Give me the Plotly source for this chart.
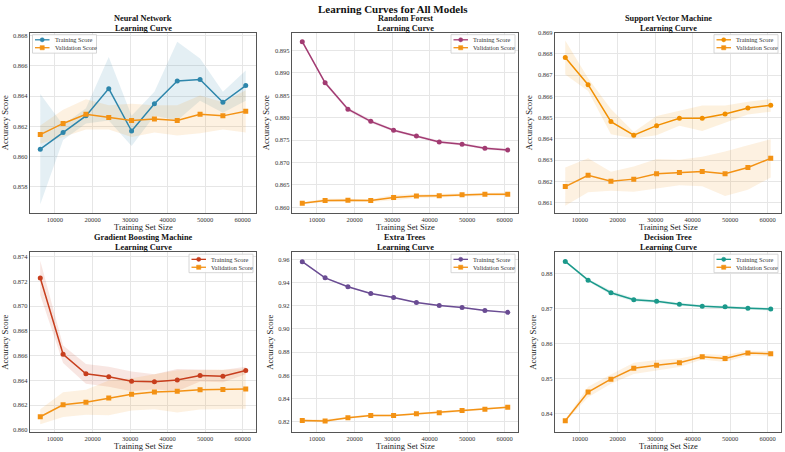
import plotly.graph_objects as go

# ---------------- data ----------------
train_sizes = [6080, 12160, 18240, 24320, 30400, 36480, 42560, 48640, 54720, 60800]
x_ticks = [10000, 20000, 30000, 40000, 50000, 60000]

model_names = ["Neural Network", "Random Forest", "Support Vector Machine",
               "Gradient Boosting Machine", "Extra Trees", "Decision Tree"]
legend_labels = ["Training Score", "Validation Score"]

nn_train_mean = [0.8605, 0.8616, 0.8627, 0.8645, 0.8617, 0.8635, 0.8650, 0.8651, 0.8636, 0.8647]
nn_train_std = [0.00365, 0.0005, 0.0005, 0.0021, 0.0010, 0.0008, 0.0026, 0.0014, 0.0007, 0.0010]
nn_val_mean = [0.86146, 0.8622, 0.8628, 0.8626, 0.8624, 0.8625, 0.8624, 0.8628, 0.8627, 0.8630]
nn_val_std = [0.0006, 0.0009, 0.0010, 0.0008, 0.0011, 0.0009, 0.0010, 0.00125, 0.0009, 0.0014]

rf_train_mean = [0.8970, 0.8878, 0.8819, 0.8792, 0.8772, 0.8759, 0.8746, 0.8741, 0.8732, 0.8728]
rf_train_std = [0.0003, 0.0004, 0.0004, 0.0004, 0.0003, 0.0003, 0.0003, 0.0003, 0.0003, 0.0003]
rf_val_mean = [0.8609, 0.8615, 0.8616, 0.8615, 0.8622, 0.8625, 0.8626, 0.8628, 0.8629, 0.8629]
rf_val_std = [0.0002, 0.0004, 0.0003, 0.0003, 0.0006, 0.0004, 0.0004, 0.0004, 0.0004, 0.0004]

svm_train_mean = [0.86783, 0.86655, 0.86481, 0.86417, 0.86462, 0.86497, 0.86497, 0.86517, 0.86545, 0.86558]
svm_train_std = [0.0008, 0.0003, 0.0006, 0.00015, 0.00045, 0.00035, 0.0006, 0.0004, 0.0003, 0.0003]
svm_val_mean = [0.86175, 0.86228, 0.86200, 0.86210, 0.86235, 0.86241, 0.86246, 0.86235, 0.86265, 0.86308]
svm_val_std = [0.0009, 0.0008, 0.00045, 0.0006, 0.0007, 0.0006, 0.0007, 0.00105, 0.00105, 0.0009]

gbm_train_mean = [0.87227, 0.86611, 0.86453, 0.86429, 0.86392, 0.86389, 0.86402, 0.86440, 0.86434, 0.86480]
gbm_train_std = [0.0014, 0.0007, 0.0008, 0.0008, 0.0008, 0.0006, 0.0009, 0.0005, 0.0005, 0.0003]
gbm_val_mean = [0.86106, 0.86203, 0.86223, 0.86258, 0.86287, 0.86306, 0.86311, 0.86324, 0.86327, 0.86330]
gbm_val_std = [0.0006, 0.0010, 0.0010, 0.0014, 0.0013, 0.0014, 0.0017, 0.0016, 0.0016, 0.0016]

et_train_mean = [0.9580, 0.9441, 0.9364, 0.9305, 0.9271, 0.9228, 0.9203, 0.9186, 0.9160, 0.9143]
et_train_std = [0.0006, 0.0006, 0.0006, 0.0006, 0.0006, 0.0006, 0.0006, 0.0006, 0.0006, 0.0006]
et_val_mean = [0.8209, 0.8206, 0.8234, 0.8254, 0.8254, 0.8268, 0.8277, 0.8297, 0.8308, 0.8325]
et_val_std = [0.0012, 0.0012, 0.0008, 0.0010, 0.0008, 0.0008, 0.0008, 0.0008, 0.0008, 0.0008]

dt_train_mean = [0.88348, 0.87812, 0.87454, 0.87256, 0.87209, 0.87124, 0.87068, 0.87049, 0.87011, 0.86986]
dt_train_std = [0.0003, 0.0004, 0.0006, 0.0005, 0.0004, 0.0004, 0.0004, 0.0004, 0.0004, 0.0004]
dt_val_mean = [0.83793, 0.84614, 0.84981, 0.85292, 0.85376, 0.85452, 0.85621, 0.85574, 0.85727, 0.85708]
dt_val_std = [0.0003, 0.0015, 0.0013, 0.0016, 0.0015, 0.0012, 0.0008, 0.0010, 0.0007, 0.0007]

# ---------------- styling ----------------
W, H = 785, 452
FONT = "Liberation Serif"
train_colors = ["#2E86AB", "#A23B72", "#F18F01", "#C73E1D", "#6A4C93", "#1B998B"]
val_color = "#F39214"

x_px = [(30, 256), (292, 518), (555, 781)]
y_px = [(29, 211), (251, 433)]
y_ranges = [(0.8563, 0.8682), (0.8588, 0.8990), (0.86052, 0.8690),
            (0.85981, 0.87435), (0.8109, 0.9662), (0.83464, 0.88612)]
y_dticks = [0.002, 0.005, 0.001, 0.002, 0.02, 0.01]
y_formats = [".3f", ".3f", ".3f", ".3f", ".2f", ".2f"]

series = [
    (nn_train_mean, nn_train_std, nn_val_mean, nn_val_std),
    (rf_train_mean, rf_train_std, rf_val_mean, rf_val_std),
    (svm_train_mean, svm_train_std, svm_val_mean, svm_val_std),
    (gbm_train_mean, gbm_train_std, gbm_val_mean, gbm_val_std),
    (et_train_mean, et_train_std, et_val_mean, et_val_std),
    (dt_train_mean, dt_train_std, dt_val_mean, dt_val_std),
]


def rgba(hexc, a):
    h = hexc.lstrip("#")
    r, g, b = int(h[0:2], 16), int(h[2:4], 16), int(h[4:6], 16)
    return f"rgba({r},{g},{b},{a})"


def PX(px):
    return px / W


def PY(py):
    return 1 - py / H


fig = go.Figure()
layout = dict(
    width=W, height=H, margin=dict(l=0, r=0, t=0, b=0),
    paper_bgcolor="white", plot_bgcolor="white",
    font=dict(family=FONT, color="#222"),
    showlegend=False,
)
annotations = []
shapes = []

for i, (name, (tm, ts, vm, vs)) in enumerate(zip(model_names, series)):
    k = i + 1
    row, col = divmod(i, 3)
    xs = "x" if k == 1 else f"x{k}"
    ys = "y" if k == 1 else f"y{k}"
    tc = train_colors[i]

    up = [m + s for m, s in zip(tm, ts)]
    lo = [m - s for m, s in zip(tm, ts)]
    fig.add_trace(go.Scatter(x=train_sizes + train_sizes[::-1], y=up + lo[::-1],
                             fill="toself", fillcolor=rgba(tc, 0.13), line=dict(width=0),
                             mode="lines", hoverinfo="skip", xaxis=xs, yaxis=ys))
    upv = [m + s for m, s in zip(vm, vs)]
    lov = [m - s for m, s in zip(vm, vs)]
    fig.add_trace(go.Scatter(x=train_sizes + train_sizes[::-1], y=upv + lov[::-1],
                             fill="toself", fillcolor=rgba(val_color, 0.13), line=dict(width=0),
                             mode="lines", hoverinfo="skip", xaxis=xs, yaxis=ys))
    fig.add_trace(go.Scatter(x=train_sizes, y=tm, mode="lines+markers", name=legend_labels[0],
                             line=dict(color=tc, width=1.5),
                             marker=dict(symbol="circle", size=5, color=tc),
                             xaxis=xs, yaxis=ys))
    fig.add_trace(go.Scatter(x=train_sizes, y=vm, mode="lines+markers", name=legend_labels[1],
                             line=dict(color=val_color, width=1.5),
                             marker=dict(symbol="square", size=5, color=val_color),
                             xaxis=xs, yaxis=ys))

    x0, x1 = x_px[col]
    yt, yb = y_px[row]
    xdom = [PX(x0), PX(x1)]
    ydom = [PY(yb), PY(yt)]
    axcommon = dict(showline=True, mirror=True, linecolor="#555", linewidth=1.3,
                    showgrid=True, gridcolor="#e6e6e6", gridwidth=0.8, zeroline=False,
                    ticks="", ticklen=0, tickfont=dict(family=FONT, size=6.5, color="#333"))
    layout["xaxis" if k == 1 else f"xaxis{k}"] = dict(
        domain=xdom, anchor=ys, range=[3344, 63536], tickvals=x_ticks, tickformat="d",
        **axcommon)
    layout["yaxis" if k == 1 else f"yaxis{k}"] = dict(
        domain=ydom, anchor=xs, range=list(y_ranges[i]), dtick=y_dticks[i], tick0=0,
        tickformat=y_formats[i],
        title=dict(text="Accuracy Score", font=dict(family=FONT, size=8.7, color="#222"), standoff=3),
        **axcommon)

    cx = (xdom[0] + xdom[1]) / 2
    # x-axis title
    annotations.append(dict(text="Training Set Size", xref="paper", yref="paper",
                            x=cx, y=PY(yb + 14.2), xanchor="center", yanchor="middle",
                            showarrow=False, font=dict(family=FONT, size=8.5, color="#222")))
    # subplot title (two lines)
    for line_text, dy in ((name, -14.4), ("Learning Curve", -4.6)):
        annotations.append(dict(text=f"<b>{line_text}</b>", xref="paper", yref="paper",
                                x=cx, y=PY(yt + dy), xanchor="center", yanchor="middle",
                                showarrow=False, font=dict(family=FONT, size=8.3, color="#111")))

    # legend box
    bw, bh = 64, 18.7
    bx0 = x0 + 2.5 if k == 1 else x1 - 3 - bw
    by0 = yt + 2
    shapes.append(dict(type="rect", xref="paper", yref="paper",
                       x0=PX(bx0), x1=PX(bx0 + bw), y0=PY(by0), y1=PY(by0 + bh),
                       fillcolor="rgba(255,255,255,0.85)", line=dict(color="#cccccc", width=0.8),
                       layer="above"))
    for j, (lab, col_, sym) in enumerate(((legend_labels[0], tc, "circle"),
                                          (legend_labels[1], val_color, "rect"))):
        ey = by0 + 5.2 + j * 8.0
        shapes.append(dict(type="line", xref="paper", yref="paper",
                           x0=PX(bx0 + 2.5), x1=PX(bx0 + 17), y0=PY(ey), y1=PY(ey),
                           line=dict(color=col_, width=1.3), layer="above"))
        r = 2.1
        shapes.append(dict(type=sym, xref="paper", yref="paper",
                           x0=PX(bx0 + 9.7 - r), x1=PX(bx0 + 9.7 + r),
                           y0=PY(ey + r), y1=PY(ey - r),
                           fillcolor=col_, line=dict(color=col_, width=0.5), layer="above"))
        annotations.append(dict(text=lab, xref="paper", yref="paper", x=PX(bx0 + 20),
                                y=PY(ey), xanchor="left", yanchor="middle", showarrow=False,
                                font=dict(family=FONT, size=6.3, color="#333")))

annotations.append(dict(text="<b>Learning Curves for All Models</b>", xref="paper", yref="paper",
                        x=0.5, y=PY(5.0), xanchor="center", yanchor="middle", showarrow=False,
                        font=dict(family=FONT, size=11, color="#111")))
layout["annotations"] = annotations
layout["shapes"] = shapes
fig.update_layout(**layout)
fig.write_html("out.html")
